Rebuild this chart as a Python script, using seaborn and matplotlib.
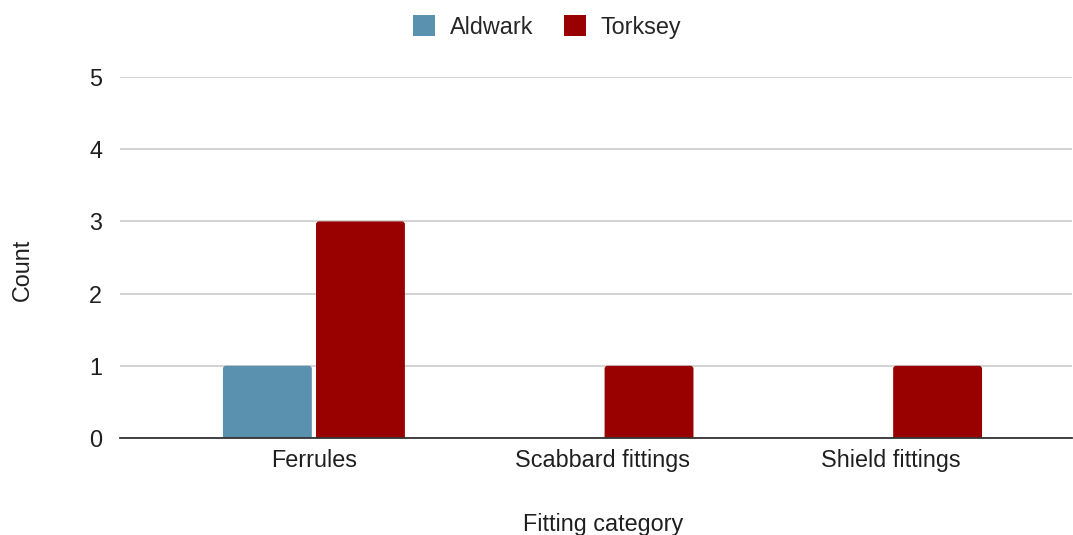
import matplotlib
matplotlib.use("Agg")
import matplotlib.pyplot as plt
import seaborn as sns
import pandas as pd
from matplotlib.patches import Patch, FancyBboxPatch

categories = ["Ferrules", "Scabbard fittings", "Shield fittings"]
sites = ["Aldwark", "Torksey"]
aldwark = [1, 0, 0]
torksey = [3, 1, 1]
y_ticks = [0, 1, 2, 3, 4, 5]

df = pd.DataFrame({
    "Fitting category": categories * 2,
    "Site": [sites[0]] * 3 + [sites[1]] * 3,
    "Count": aldwark + torksey,
})

sns.set_theme(style="white")
plt.rcParams["font.family"] = ["Liberation Sans", "DejaVu Sans"]

FS = 16.8
TXT = "#1f1f1f"

fig = plt.figure(figsize=(10.73, 5.35), dpi=100)
ax = fig.add_axes([120 / 1073, 1 - 438 / 535, (1072 - 120) / 1073, (438 - 77) / 535])

palette = {"Aldwark": "#5a91ae", "Torksey": "#990000"}
sns.barplot(data=df, x="Fitting category", y="Count", hue="Site",
            palette=palette, width=0.645, gap=0.045, saturation=1,
            edgecolor="none", linewidth=0, ax=ax, legend=False)

ax.set_ylim(0, 5)
ax.set_xlim(-0.672, 2.627)

# give the bars slightly rounded top corners
fig.canvas.draw()
bbox = ax.get_window_extent()
px_x = bbox.width / (ax.get_xlim()[1] - ax.get_xlim()[0])
px_y = bbox.height / (ax.get_ylim()[1] - ax.get_ylim()[0])
r = 3.0 / px_x
aspect = px_x / px_y
for bar in list(ax.patches):
    h = bar.get_height()
    if h <= 0:
        bar.remove()
        continue
    x0, w = bar.get_x(), bar.get_width()
    y0 = -4.0 / px_y
    rb = FancyBboxPatch((x0, y0), w, h - y0,
                        boxstyle=f"round,pad=0,rounding_size={r}",
                        mutation_aspect=aspect,
                        facecolor=bar.get_facecolor(), edgecolor="none",
                        linewidth=0, zorder=bar.get_zorder())
    bar.remove()
    ax.add_patch(rb)

ax.set_yticks(y_ticks)
ax.yaxis.grid(True, color="#cccccc", linewidth=1.2)
ax.set_axisbelow(True)
for s in ["top", "right", "left"]:
    ax.spines[s].set_visible(False)
ax.spines["bottom"].set_color("#333333")
ax.spines["bottom"].set_linewidth(1.3)
ax.spines["bottom"].set_zorder(5)
ax.tick_params(axis="both", length=0, labelsize=FS, colors=TXT)
ax.tick_params(axis="y", pad=13)
ax.tick_params(axis="x", pad=8)

ax.set_ylabel("Count", fontsize=FS, color=TXT)
ax.yaxis.set_label_coords(-(120 - 22) / 952, (438 - 270) / 361)
ax.yaxis.label.set_va("center")
ax.set_xlabel("Fitting category", fontsize=FS, color=TXT)
ax.xaxis.set_label_coords((603 - 120) / 952, -(524.5 - 438) / 361)
ax.xaxis.label.set_va("center")

handles = [Patch(facecolor=palette[s], edgecolor="none") for s in sites]
fig.legend(handles, sites, loc="center", bbox_to_anchor=(547 / 1073, 1 - 27 / 535),
           ncol=2, frameon=False, fontsize=FS, handlelength=0.95, handleheight=0.95,
           handletextpad=0.65, columnspacing=1.3)

fig.savefig("out.png", dpi=100)
